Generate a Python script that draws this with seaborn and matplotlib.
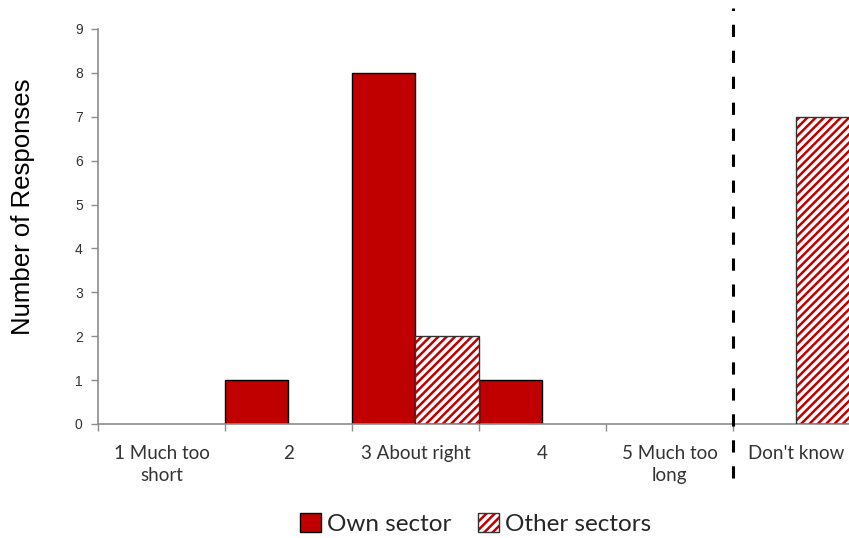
import numpy as np
import pandas as pd
import matplotlib
matplotlib.use("Agg")
import matplotlib.pyplot as plt
import seaborn as sns
from matplotlib.patches import Patch, Rectangle
from matplotlib.legend_handler import HandlerTuple
from matplotlib.ticker import FixedLocator, MultipleLocator

# ---- data ----
categories = ["1 Much too\nshort", "2", "3 About right", "4", "5 Much too\nlong", "Don't know"]
own_sector = [0, 1, 8, 1, 0, 0]
other_sectors = [0, 0, 2, 0, 0, 7]
series_names = ["Own sector", "Other sectors"]

RED = "#C00000"
GREY = "#8c8c8c"

df = pd.DataFrame({
    "category": categories * 2,
    "series": [series_names[0]] * len(categories) + [series_names[1]] * len(categories),
    "responses": own_sector + other_sectors,
})

sns.set_style("white")
plt.rcParams["hatch.linewidth"] = 1.8

fig = plt.figure(figsize=(8.49, 5.38), dpi=100)
ax = fig.add_axes([0.1154, 0.2119, 0.8975, 0.7342])

sns.barplot(
    data=df, x="category", y="responses", hue="series",
    order=categories, hue_order=series_names,
    palette=[RED, "white"], saturation=1, width=1.0, gap=0,
    edgecolor="black", linewidth=1.0, legend=False, ax=ax,
)

# own sector: solid red with black outline
for bar in ax.containers[0]:
    if bar.get_height() == 0:
        bar.set_linewidth(0)

# other sectors: red diagonal hatch, dark outline drawn on top
for bar in ax.containers[1]:
    bar.set_facecolor("white")
    bar.set_edgecolor(RED)
    bar.set_hatch("////")
    bar.set_linewidth(0)
    if bar.get_height() > 0:
        ax.add_patch(Rectangle(bar.get_xy(), bar.get_width(), bar.get_height(),
                               fill=False, edgecolor="#333333", linewidth=1.0, zorder=3))

ax.set_xlim(-0.5, len(categories) - 0.5)
ax.set_ylim(0, 9)
ax.yaxis.set_major_locator(MultipleLocator(1))

# ticks: labels at centres, tick marks at category boundaries
ax.xaxis.set_minor_locator(FixedLocator(np.arange(len(categories) + 1) - 0.5))
ax.tick_params(axis="x", which="minor", bottom=True, length=5, width=1, color=GREY, direction="out")
ax.tick_params(axis="x", which="major", bottom=False, length=0, pad=15)
ax.tick_params(axis="y", left=True, length=5, width=1, color=GREY, direction="out", pad=6)

for lbl in ax.get_xticklabels():
    lbl.set_fontfamily("Lato")
    lbl.set_fontsize(13.5)
    lbl.set_color("#333333")
    lbl.set_linespacing(1.4)
for lbl in ax.get_yticklabels():
    lbl.set_fontfamily("Liberation Sans")
    lbl.set_fontsize(10)
    lbl.set_color("#333333")

ax.set_xlabel("")
ax.set_ylabel("Number of Responses", fontfamily="Liberation Sans", fontsize=18.5, color="black")
ax.yaxis.set_label_coords(-0.083, 0.55)

sns.despine(ax=ax, top=True, right=True)
for side in ["left", "bottom"]:
    ax.spines[side].set_color(GREY)
    ax.spines[side].set_linewidth(1.2)

# dashed separator before "Don't know"
trans = ax.get_xaxis_transform()
ax.plot([4.5, 4.5], [-0.137, 1.053], transform=trans, color="black",
        linestyle=(0, (4, 4.5)), linewidth=2.2, clip_on=False, zorder=4)

# legend
h_own = Patch(facecolor=RED, edgecolor="black", linewidth=1.0)
h_other_hatch = Patch(facecolor="white", edgecolor=RED, hatch="////", linewidth=0)
h_other_edge = Patch(facecolor="none", edgecolor="#333333", linewidth=1.0)
fig.legend(
    [h_own, (h_other_hatch, h_other_edge)], series_names,
    handler_map={tuple: HandlerTuple(ndivide=1, pad=0)},
    loc="center", bbox_to_anchor=(0.56, 0.026), ncol=2, frameon=False,
    prop={"family": "Lato", "size": 17.5}, handlelength=0.85, handleheight=0.85,
    handletextpad=0.25, columnspacing=1.1,
)

fig.savefig("out.png", dpi=100)
